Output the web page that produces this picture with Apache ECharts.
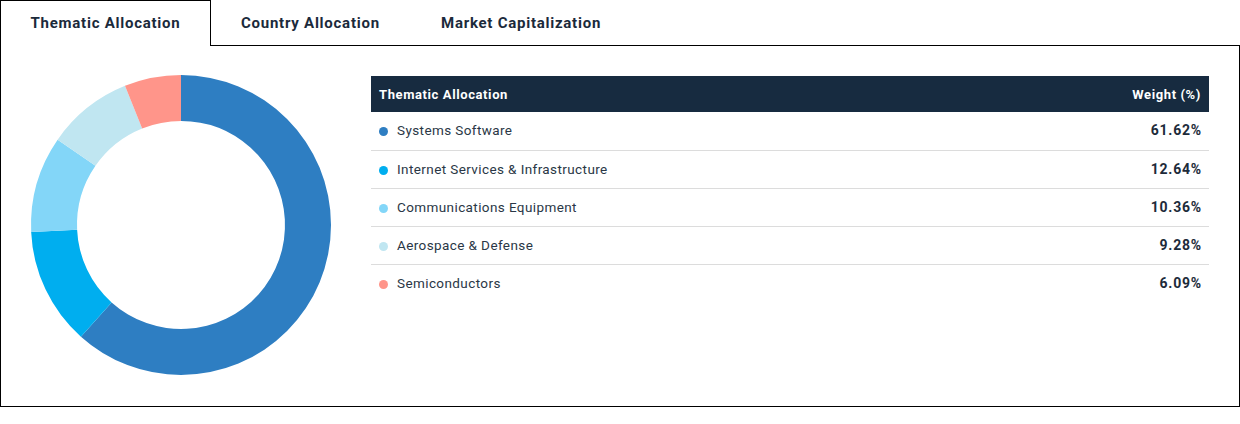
<!DOCTYPE html>
<html>
<head>
<meta charset="utf-8">
<script src="https://cdn.jsdelivr.net/npm/echarts@6/dist/echarts.min.js"></script>
<style>
	html, body { margin:0; padding:0; background:#fff; font-family: Roboto, Arial, sans-serif; color:#1d2b3a; }
	#wrap { position:relative; width:1240px; height:424px; }
	/* tabs */
	.tab { position:absolute; top:0; height:45px; line-height:46px; font-size:15px; font-weight:bold; color:#1b2a3b; letter-spacing:0.75px; }
	.tab.on { left:0; width:211px; border:1px solid #000; border-bottom:none; background:#fff; text-align:center; z-index:2; height:46px; line-height:44px; box-sizing:border-box; }
	#frame { position:absolute; left:0; top:45px; width:1240px; height:362px; border:1px solid #000; box-sizing:border-box; }
	#pie { position:absolute; left:1px; top:46px; width:360px; height:358px; }
	/* table */
	#tbl { position:absolute; left:371px; top:76px; width:838px; border-collapse:collapse; font-size:13.5px; }
	#tbl th { background:#172b40; color:#fff; height:36px; padding:0 8px; font-weight:bold; font-size:13px; text-align:left; letter-spacing:0.6px; box-sizing:border-box; }
	#tbl th.r, #tbl td.r { text-align:right; }
	#tbl td { height:38px; padding:0 8px 1px 8px; border-bottom:1px solid #dcdcdc; color:#2a3746; letter-spacing:0.4px; box-sizing:border-box; }
	#tbl tr:last-child td { border-bottom:none; }
	#tbl td.r { font-weight:bold; color:#1d2b3a; font-size:14px; letter-spacing:0.8px; padding-right:7px; }
	.dot { display:inline-block; width:9px; height:9px; border-radius:50%; margin:0 9px 0 0; vertical-align:-1px; }
</style>
</head>
<body>
<div id="wrap">
	<div class="tab on">Thematic Allocation</div>
	<div class="tab" style="left:241px;">Country Allocation</div>
	<div class="tab" style="left:441px;">Market Capitalization</div>
	<div id="frame"></div>
	<div id="pie"></div>
	<table id="tbl"><thead><tr><th>Thematic Allocation</th><th class="r">Weight (%)</th></tr></thead><tbody id="rows"></tbody></table>
</div>
<script>
//数据
var themes = ['Systems Software', 'Internet Services & Infrastructure', 'Communications Equipment', 'Aerospace & Defense', 'Semiconductors'];
var weights = [61.62, 12.64, 10.36, 9.28, 6.09];
var colors = ['#2e7ec2', '#00aeef', '#83d6f8', '#c0e6f1', '#ff958a'];

//表格
var html = '';
for( var i = 0; i < themes.length; i++ )
{
	html += '<tr><td><span class="dot" style="background:' + colors[i] + '"></span>' + themes[i].replace('&', '&amp;') + '</td>'
		+ '<td class="r">' + weights[i].toFixed(2) + '%</td></tr>';
}
document.getElementById('rows').innerHTML = html;

//环形图
var pieData = [];
for( var i = 0; i < themes.length; i++ )
{
	pieData.push({ name: themes[i], value: weights[i], itemStyle: { color: colors[i] } });
}
var chart = echarts.init( document.getElementById('pie') );
chart.setOption({
	animation: false,
	series: [
		{
			type: 'pie',
			center: [180, 179],
			radius: [104, 150],
			startAngle: 90,
			label: { show: false },
			labelLine: { show: false },
			itemStyle: { borderWidth: 0 },
			data: pieData
		}
	]
});
</script>
</body>
</html>
